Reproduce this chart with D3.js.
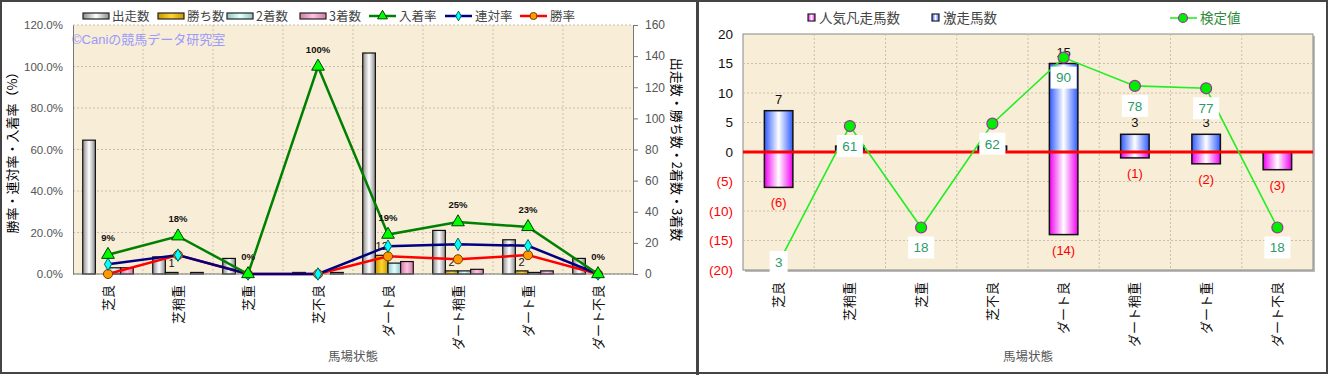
<!DOCTYPE html>
<html>
<head>
<meta charset="utf-8">
<script src="https://cdn.jsdelivr.net/npm/d3@7"></script>
<style>
  body { margin: 0; background: #fff; }
  svg { display: block; font-family: "Liberation Sans", "Noto Sans CJK JP", sans-serif; }
</style>
</head>
<body>
<svg id="chart" width="1328" height="375"></svg>
<script>
const categories = ['芝良', '芝稍重', '芝重', '芝不良', 'ダート良', 'ダート稍重', 'ダート重', 'ダート不良'];

// left chart: counts (right axis) and rates in % (left axis)
const runs = [86, 11, 10, 1, 142, 28, 22, 10];
const wins = [0, 1, 0, 0, 12, 2, 2, 0];
const seconds = [4, 0, 0, 0, 7, 2, 1, 0];
const thirds = [4, 1, 0, 1, 8, 3, 2, 0];
const placeRate = [9.3, 18.2, 0, 100, 19.0, 25.0, 22.7, 0];
const quinellaRate = [4.7, 9.1, 0, 0, 13.4, 14.3, 13.6, 0];
const winRate = [0, 9.1, 0, 0, 8.5, 7.1, 9.1, 0];

// right chart
const hotRunners = [7, 1, 0, 1, 15, 3, 3, 0];
const flopRunners = [-6, 0, 0, 0, -14, -1, -2, -3];
const testValue = [3, 61, 18, 62, 90, 78, 77, 18];

const svg = d3.select('#chart');
const defs = svg.append('defs');

function hGrad(id, edge, mid) {
  const g = defs.append('linearGradient').attr('id', id)
    .attr('x1', '0%').attr('x2', '100%').attr('y1', '0%').attr('y2', '0%');
  g.append('stop').attr('offset', '0%').attr('stop-color', edge);
  g.append('stop').attr('offset', '50%').attr('stop-color', mid);
  g.append('stop').attr('offset', '100%').attr('stop-color', edge);
}
hGrad('gRuns', '#8c8c8c', '#ffffff');
hGrad('gWins', '#c89600', '#ffd630');
hGrad('gSec', '#8fc6c6', '#e4ffff');
hGrad('gThird', '#d07aa8', '#ffc2e2');
hGrad('gHot', '#2f5bff', '#ffffff');
hGrad('gFlop', '#f000f0', '#ffffff');

const plotBg = '#f8edd6';
const gridColor = '#c9bfae';

// frame
svg.append('rect').attr('x', 1).attr('y', 1).attr('width', 1326).attr('height', 372)
  .attr('fill', 'none').attr('stroke', '#444').attr('stroke-width', 2);
svg.append('line').attr('x1', 697.5).attr('x2', 697.5).attr('y1', 0).attr('y2', 375)
  .attr('stroke', '#444').attr('stroke-width', 3);

// ================= LEFT CHART =================
const L = { left: 73, right: 633, top: 25, bottom: 274 };
const x = d3.scaleBand().domain(categories).range([L.left, L.right]);
const xs = d3.scaleBand().domain(['runs', 'wins', 'seconds', 'thirds'])
  .range([0, x.bandwidth()]).paddingInner(0).paddingOuter(0.77);
const yL = d3.scaleLinear().domain([0, 1.2]).range([L.bottom, L.top]);
const yR = d3.scaleLinear().domain([0, 160]).range([L.bottom, L.top]);

const left = svg.append('g');
left.append('rect').attr('x', L.left).attr('y', L.top)
  .attr('width', L.right - L.left).attr('height', L.bottom - L.top).attr('fill', plotBg);

// grid
left.append('g').selectAll('line').data(yL.ticks(6)).join('line')
  .attr('x1', L.left).attr('x2', L.right)
  .attr('y1', d => yL(d)).attr('y2', d => yL(d))
  .attr('stroke', gridColor).attr('stroke-dasharray', '2,2');
left.append('g').selectAll('line').data(categories.slice(1)).join('line')
  .attr('x1', d => x(d)).attr('x2', d => x(d))
  .attr('y1', L.top).attr('y2', L.bottom)
  .attr('stroke', gridColor).attr('stroke-dasharray', '2,2');

// watermark
left.append('text').attr('x', 72).attr('y', 44).attr('font-size', 13).attr('fill', '#9a9aff')
  .text('©Caniの競馬データ研究室');

// bars
const barSeries = [
  { key: 'runs', values: runs, fill: 'url(#gRuns)' },
  { key: 'wins', values: wins, fill: 'url(#gWins)' },
  { key: 'seconds', values: seconds, fill: 'url(#gSec)' },
  { key: 'thirds', values: thirds, fill: 'url(#gThird)' }
];
barSeries.forEach(s => {
  left.append('g').selectAll('rect').data(s.values).join('rect')
    .attr('x', (d, i) => x(categories[i]) + xs(s.key))
    .attr('y', d => yR(d))
    .attr('width', xs.bandwidth())
    .attr('height', d => L.bottom - yR(d))
    .attr('fill', s.fill)
    .attr('stroke', '#111').attr('stroke-width', 1.2);
});

// win count labels
left.append('g').selectAll('text').data(wins).join('text')
  .attr('x', (d, i) => x(categories[i]) + xs('wins') + xs.bandwidth() / 2)
  .attr('y', d => yR(d) - 5)
  .attr('text-anchor', 'middle').attr('font-size', 11).attr('fill', '#111')
  .text(d => d > 0 ? d : '');

// axes lines
left.append('line').attr('x1', L.left).attr('x2', L.right).attr('y1', L.bottom).attr('y2', L.bottom)
  .attr('stroke', '#777');

const axL = left.append('g').attr('transform', `translate(${L.left},0)`)
  .call(d3.axisLeft(yL).ticks(6).tickFormat(d3.format('.1%')).tickSize(0).tickPadding(10));
axL.select('.domain').attr('stroke', '#777');
axL.selectAll('text').attr('font-size', 11.5).attr('fill', '#555').attr('font-family', 'Liberation Sans, sans-serif');

const axR = left.append('g').attr('transform', `translate(${L.right},0)`)
  .call(d3.axisRight(yR).ticks(8).tickSize(5).tickPadding(7));
axR.select('.domain').attr('stroke', '#777');
axR.selectAll('line').attr('stroke', '#777');
axR.selectAll('text').attr('font-size', 12).attr('fill', '#555');

const axX = left.append('g').attr('transform', `translate(0,${L.bottom})`)
  .call(d3.axisBottom(x).tickSize(0));
axX.select('.domain').remove();
axX.selectAll('text')
  .attr('transform', 'translate(0,11) rotate(-90)')
  .attr('x', 0).attr('y', 0).attr('dy', '0.35em')
  .attr('text-anchor', 'end').attr('font-size', 13).attr('fill', '#111')
  .attr('font-family', 'Noto Sans CJK JP');

// lines
const lineL = d3.line().x((d, i) => x(categories[i]) + x.bandwidth() / 2).y(d => yL(d / 100));
const lineSeries = [
  { name: '入着率', values: placeRate, stroke: '#008000', marker: 'triangle', fill: '#00ff00', mstroke: '#004000', size: 70 },
  { name: '連対率', values: quinellaRate, stroke: '#000080', marker: 'diamond', fill: '#00ffff', mstroke: '#006666', size: 45 },
  { name: '勝率', values: winRate, stroke: '#ff0000', marker: 'circle', fill: '#ff9900', mstroke: '#7a3b00', size: 65 }
];
const symbolOf = { triangle: d3.symbolTriangle, diamond: d3.symbolDiamond, circle: d3.symbolCircle };
// draw in reverse so place-rate line ends on top where they coincide
[...lineSeries].reverse().forEach(s => {
  left.append('path').datum(s.values).attr('d', lineL)
    .attr('fill', 'none').attr('stroke', s.stroke).attr('stroke-width', 2.5);
});
[...lineSeries].reverse().forEach(s => {
  left.append('g').selectAll('path').data(s.values).join('path')
    .attr('transform', (d, i) => `translate(${x(categories[i]) + x.bandwidth() / 2},${yL(d / 100)})`)
    .attr('d', d3.symbol(symbolOf[s.marker], s.size))
    .attr('fill', s.fill).attr('stroke', s.mstroke).attr('stroke-width', 1);
});

// place-rate labels
left.append('g').selectAll('text').data(placeRate).join('text')
  .attr('x', (d, i) => x(categories[i]) + x.bandwidth() / 2)
  .attr('y', d => yL(d / 100) - 14)
  .attr('text-anchor', 'middle').attr('font-size', 9.5).attr('font-weight', 'bold').attr('fill', '#111')
  .text(d => Math.round(d) + '%');

// axis titles
left.append('text').attr('transform', `translate(17,${(L.top + L.bottom) / 2}) rotate(-90)`)
  .attr('text-anchor', 'middle').attr('font-size', 13).attr('fill', '#000')
  .attr('font-family', 'Noto Sans CJK JP')
  .text('勝率・連対率・入着率（%）');
left.append('text').attr('transform', `translate(672,${(L.top + L.bottom) / 2}) rotate(90)`)
  .attr('text-anchor', 'middle').attr('font-size', 13).attr('fill', '#000')
  .attr('font-family', 'Noto Sans CJK JP')
  .text('出走数・勝ち数・2着数・3着数');
left.append('text').attr('x', (L.left + L.right) / 2).attr('y', 361)
  .attr('text-anchor', 'middle').attr('font-size', 12.5).attr('fill', '#555')
  .attr('font-family', 'Noto Sans CJK JP').text('馬場状態');

// legend
const legL = left.append('g').attr('font-size', 12.5).attr('fill', '#444').attr('font-family', 'Noto Sans CJK JP');
const legItems = [
  { name: '出走数', fill: 'url(#gRuns)', x0: 83 },
  { name: '勝ち数', fill: 'url(#gWins)', x0: 158 },
  { name: '2着数', fill: 'url(#gSec)', x0: 227 },
  { name: '3着数', fill: 'url(#gThird)', x0: 300 }
];
legItems.forEach(it => {
  legL.append('rect').attr('x', it.x0).attr('y', 13).attr('width', 26).attr('height', 6)
    .attr('fill', it.fill).attr('stroke', '#222').attr('stroke-width', 1.2);
  legL.append('text').attr('x', it.x0 + 29).attr('y', 21).text(it.name);
});
const lineLegX = [369, 445, 520];
lineSeries.forEach((s, i) => {
  const x0 = lineLegX[i];
  legL.append('line').attr('x1', x0).attr('x2', x0 + 27).attr('y1', 16).attr('y2', 16)
    .attr('stroke', s.stroke).attr('stroke-width', 2.5);
  legL.append('path').attr('transform', `translate(${x0 + 13.5},16)`)
    .attr('d', d3.symbol(symbolOf[s.marker], s.size * 0.6))
    .attr('fill', s.fill).attr('stroke', s.mstroke);
  legL.append('text').attr('x', x0 + 30).attr('y', 21).text(s.name);
});

// ================= RIGHT CHART =================
const R = { left: 743, right: 1313, top: 34, bottom: 270 };
const x2 = d3.scaleBand().domain(categories).range([R.left, R.right]);
const y2 = d3.scaleLinear().domain([-20, 20]).range([R.bottom, R.top]);
const y3 = d3.scaleLinear().domain([0, 100]).range([R.bottom, R.top]);
const bw = x2.bandwidth() * 0.4;
const cx = i => x2(categories[i]) + x2.bandwidth() / 2;

const right = svg.append('g');
right.append('rect').attr('x', R.left + 2).attr('y', R.top + 2)
  .attr('width', R.right - R.left).attr('height', R.bottom - R.top).attr('fill', '#bbb');
right.append('rect').attr('x', R.left).attr('y', R.top)
  .attr('width', R.right - R.left).attr('height', R.bottom - R.top)
  .attr('fill', plotBg).attr('stroke', '#888');

right.append('g').selectAll('line').data(y2.ticks(8).filter(d => d > -20 && d < 20)).join('line')
  .attr('x1', R.left).attr('x2', R.right)
  .attr('y1', d => y2(d)).attr('y2', d => y2(d))
  .attr('stroke', gridColor).attr('stroke-dasharray', '2,2');
right.append('g').selectAll('line').data(categories.slice(1)).join('line')
  .attr('x1', d => x2(d)).attr('x2', d => x2(d))
  .attr('y1', R.top).attr('y2', R.bottom)
  .attr('stroke', gridColor).attr('stroke-dasharray', '2,2');

// bars
right.append('g').selectAll('rect').data(flopRunners).join('rect')
  .attr('x', (d, i) => cx(i) - bw / 2).attr('y', y2(0))
  .attr('width', bw).attr('height', d => y2(d) - y2(0))
  .attr('fill', 'url(#gFlop)').attr('stroke', '#111').attr('stroke-width', 1.5)
  .style('display', d => d === 0 ? 'none' : null);
right.append('g').selectAll('rect').data(hotRunners).join('rect')
  .attr('x', (d, i) => cx(i) - bw / 2).attr('y', d => y2(d))
  .attr('width', bw).attr('height', d => y2(0) - y2(d))
  .attr('fill', 'url(#gHot)').attr('stroke', '#111').attr('stroke-width', 1.5)
  .style('display', d => d === 0 ? 'none' : null);

// zero line
right.append('line').attr('x1', R.left).attr('x2', R.right).attr('y1', y2(0)).attr('y2', y2(0))
  .attr('stroke', '#ff0000').attr('stroke-width', 3);

// bar labels (the "1" labels sit hidden under the test-value boxes in the original)
right.append('g').selectAll('text').data(hotRunners).join('text')
  .attr('x', (d, i) => cx(i)).attr('y', d => y2(d) - 7)
  .attr('text-anchor', 'middle').attr('font-size', 13).attr('fill', '#111')
  .text(d => d > 1 ? d : '');
right.append('g').selectAll('text').data(flopRunners).join('text')
  .attr('x', (d, i) => cx(i)).attr('y', d => y2(d) + 20)
  .attr('text-anchor', 'middle').attr('font-size', 13).attr('fill', '#ff0000')
  .text(d => d < 0 ? `(${-d})` : '');

// y axis
const ax2 = right.append('g').attr('transform', `translate(${R.left},0)`)
  .call(d3.axisLeft(y2).ticks(8).tickSize(0).tickPadding(10)
    .tickFormat(d => d < 0 ? `(${-d})` : d));
ax2.select('.domain').remove();
ax2.selectAll('text').attr('font-size', 13.5)
  .attr('fill', d => d < 0 ? '#ff0000' : '#111');

const ax2x = right.append('g').attr('transform', `translate(0,${R.bottom})`)
  .call(d3.axisBottom(x2).tickSize(0));
ax2x.select('.domain').remove();
ax2x.selectAll('text')
  .attr('transform', 'translate(0,12) rotate(-90)')
  .attr('x', 0).attr('y', 0).attr('dy', '0.35em')
  .attr('text-anchor', 'end').attr('font-size', 13).attr('fill', '#111')
  .attr('font-family', 'Noto Sans CJK JP');

// test value line
const line2 = d3.line().x((d, i) => cx(i)).y(d => y3(d));
right.append('path').datum(testValue).attr('d', line2)
  .attr('fill', 'none').attr('stroke', '#22ee22').attr('stroke-width', 1.6);
right.append('g').selectAll('circle').data(testValue).join('circle')
  .attr('cx', (d, i) => cx(i)).attr('cy', d => y3(d)).attr('r', 5.5)
  .attr('fill', '#00ee00').attr('stroke', '#993399').attr('stroke-width', 1.2);

const tvLabels = right.append('g').selectAll('g').data(testValue).join('g')
  .attr('transform', (d, i) => `translate(${cx(i)},${Math.min(y3(d) + 20, R.bottom - 8)})`);
tvLabels.append('rect')
  .attr('x', d => -(String(d).length * 4 + 5)).attr('y', -11)
  .attr('width', d => String(d).length * 8 + 10).attr('height', 22)
  .attr('fill', '#fff');
tvLabels.append('text').attr('text-anchor', 'middle').attr('dy', '0.36em')
  .attr('font-size', 13.5).attr('fill', '#2e9a6a').text(d => d);

right.append('text').attr('x', (R.left + R.right) / 2).attr('y', 361)
  .attr('text-anchor', 'middle').attr('font-size', 12.5).attr('fill', '#555')
  .attr('font-family', 'Noto Sans CJK JP').text('馬場状態');

// legend
const legR = right.append('g').attr('font-size', 13.5).attr('font-family', 'Noto Sans CJK JP');
[{ name: '人気凡走馬数', fill: 'url(#gFlop)', x0: 808 }, { name: '激走馬数', fill: 'url(#gHot)', x0: 932 }]
  .forEach(it => {
    legR.append('rect').attr('x', it.x0).attr('y', 14).attr('width', 7).attr('height', 7)
      .attr('fill', it.fill).attr('stroke', '#222').attr('stroke-width', 1.2);
    legR.append('text').attr('x', it.x0 + 11).attr('y', 23).attr('fill', '#444').text(it.name);
  });
legR.append('line').attr('x1', 1170).attr('x2', 1197).attr('y1', 18).attr('y2', 18)
  .attr('stroke', '#22ee22').attr('stroke-width', 1.6);
legR.append('circle').attr('cx', 1183).attr('cy', 18).attr('r', 4.5)
  .attr('fill', '#00ee00').attr('stroke', '#993399').attr('stroke-width', 1.2);
legR.append('text').attr('x', 1200).attr('y', 23).attr('fill', '#2e8b3a').text('検定値');
</script>
</body>
</html>
